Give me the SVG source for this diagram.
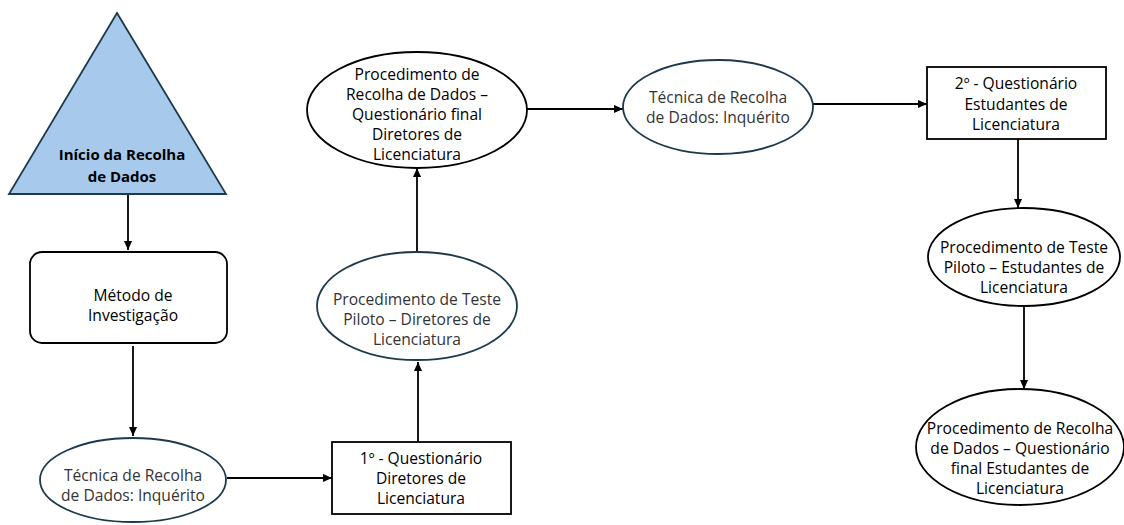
<svg xmlns="http://www.w3.org/2000/svg" width="1124" height="525" viewBox="0 0 1124 525">
<defs>
<marker id="ah" viewBox="0 0 10 10" refX="10" refY="5" markerWidth="9" markerHeight="9" orient="auto" markerUnits="userSpaceOnUse">
<path d="M0,0.5 L10,5 L0,9.5 z" fill="#000"/>
</marker>
<style>
text{font-family:"Open Sans","Liberation Sans",sans-serif;font-size:15.6px;text-anchor:middle;dominant-baseline:central;fill:#000}
.g{fill:#333}
.sh{fill:#fff;stroke:#000;stroke-width:1.8}
.nv{fill:#fff;stroke:#1c3a4c;stroke-width:1.8}
.c{fill:none;stroke:#000;stroke-width:1.8;marker-end:url(#ah)}
</style>
</defs>
<rect width="1124" height="525" fill="#fff"/>
<g id="connectors">
<line class="c" x1="128" y1="194" x2="128" y2="250"/>
<line class="c" x1="133" y1="346" x2="133" y2="436"/>
<line class="c" x1="227" y1="478" x2="332" y2="478"/>
<line class="c" x1="418" y1="442" x2="418" y2="362"/>
<line class="c" x1="417" y1="252" x2="417" y2="168"/>
<line class="c" x1="527" y1="109" x2="623" y2="109"/>
<line class="c" x1="813" y1="104" x2="927" y2="104"/>
<line class="c" x1="1018" y1="139" x2="1018" y2="208"/>
<line class="c" x1="1024" y1="306" x2="1024" y2="389"/>
</g>
<g id="n-inicio">
<polygon points="117,13 226,194 9,194" fill="#a6c9ec" stroke="#1c3a4c" stroke-width="1.8"/>
<text x="122" y="154" font-weight="bold" style="font-size:15px">Início da Recolha</text>
<text x="122" y="176" font-weight="bold" style="font-size:15px">de Dados</text>
</g>
<g id="n-metodo">
<rect class="sh" x="30" y="252" width="197" height="91" rx="12"/>
<text x="133" y="295">Método de</text>
<text x="133" y="315">Investigação</text>
</g>
<g id="n-tecnica1">
<ellipse class="nv" cx="133" cy="480" rx="93" ry="42"/>
<text class="g" x="133" y="475">Técnica de Recolha</text>
<text class="g" x="133" y="495">de Dados: Inquérito</text>
</g>
<g id="n-q1">
<rect class="sh" x="332" y="442" width="179" height="72"/>
<text x="421" y="458">1º - Questionário</text>
<text x="421" y="478">Diretores de</text>
<text x="421" y="498">Licenciatura</text>
</g>
<g id="n-piloto1">
<ellipse class="nv" cx="417" cy="306" rx="100" ry="54"/>
<text class="g" x="417" y="299">Procedimento de Teste</text>
<text class="g" x="417" y="319">Piloto – Diretores de</text>
<text class="g" x="417" y="339">Licenciatura</text>
</g>
<g id="n-recolha1">
<ellipse class="sh" cx="417" cy="110" rx="110" ry="58"/>
<text x="417" y="74">Procedimento de</text>
<text x="417" y="94">Recolha de Dados –</text>
<text x="417" y="114">Questionário final</text>
<text x="417" y="134">Diretores de</text>
<text x="417" y="154">Licenciatura</text>
</g>
<g id="n-tecnica2">
<ellipse class="nv" cx="718" cy="107" rx="95" ry="47"/>
<text class="g" x="718" y="97">Técnica de Recolha</text>
<text class="g" x="718" y="117">de Dados: Inquérito</text>
</g>
<g id="n-q2">
<rect class="sh" x="927" y="67" width="179" height="72"/>
<text x="1016" y="83">2º - Questionário</text>
<text x="1016" y="104">Estudantes de</text>
<text x="1016" y="124">Licenciatura</text>
</g>
<g id="n-piloto2">
<ellipse class="sh" cx="1024" cy="257" rx="96" ry="49"/>
<text x="1024" y="247">Procedimento de Teste</text>
<text x="1024" y="267">Piloto – Estudantes de</text>
<text x="1024" y="287">Licenciatura</text>
</g>
<g id="n-recolha2">
<ellipse class="sh" cx="1020" cy="447" rx="104" ry="58"/>
<text x="1020" y="428">Procedimento de Recolha</text>
<text x="1020" y="448">de Dados – Questionário</text>
<text x="1020" y="468">final Estudantes de</text>
<text x="1020" y="488">Licenciatura</text>
</g>
</svg>
